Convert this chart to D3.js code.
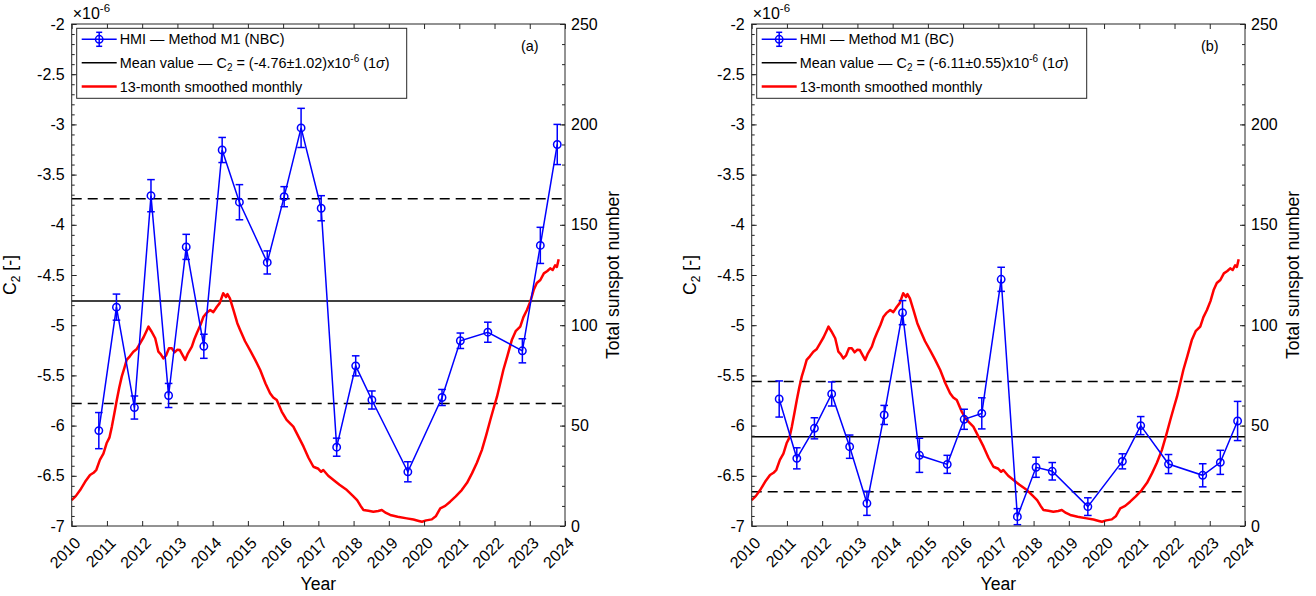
<!DOCTYPE html>
<html>
<head>
<meta charset="utf-8">
<script src="https://cdn.jsdelivr.net/npm/d3@7"></script>
<style>
  body { margin: 0; background: #fff; }
  svg { font-family: "Liberation Sans", Arial, sans-serif; }
</style>
</head>
<body>
<svg id="svg" width="1316" height="596"></svg>
<script>
const xTicks = [2010, 2011, 2012, 2013, 2014, 2015, 2016, 2017, 2018, 2019, 2020, 2021, 2022, 2023, 2024];
const leftTicks = [-7, -6.5, -6, -5.5, -5, -4.5, -4, -3.5, -3, -2.5, -2];
const rightTicks = [0, 50, 100, 150, 200, 250];

// HMI - Method M1 (NBC), panel (a)
const nbcDates = [2010.77, 2011.27, 2011.78, 2012.25, 2012.75, 2013.25, 2013.75, 2014.27, 2014.76, 2015.55, 2016.03, 2016.51, 2017.08, 2017.52, 2018.06, 2018.52, 2019.54, 2020.51, 2021.03, 2021.81, 2022.79, 2023.30, 2023.78];
const nbcC2 = [-6.05, -4.82, -5.82, -3.71, -5.70, -4.22, -5.21, -3.255, -3.775, -4.375, -3.72, -3.035, -3.835, -6.215, -5.405, -5.745, -6.46, -5.72, -5.155, -5.07, -5.255, -4.205, -3.20];
const nbcErr = [0.18, 0.13, 0.115, 0.16, 0.12, 0.125, 0.12, 0.125, 0.175, 0.115, 0.10, 0.195, 0.125, 0.09, 0.10, 0.09, 0.10, 0.08, 0.077, 0.10, 0.12, 0.18, 0.20];

// HMI - Method M1 (BC), panel (b)
const bcDates = [2010.78, 2011.28, 2011.78, 2012.27, 2012.78, 2013.27, 2013.76, 2014.28, 2014.76, 2015.55, 2016.03, 2016.53, 2017.08, 2017.54, 2018.07, 2018.53, 2019.54, 2020.52, 2021.04, 2021.83, 2022.80, 2023.30, 2023.79];
const bcC2 = [-5.735, -6.326, -6.027, -5.685, -6.21, -6.774, -5.894, -4.875, -6.296, -6.386, -5.937, -5.878, -4.543, -6.907, -6.415, -6.455, -6.807, -6.356, -6.0, -6.383, -6.495, -6.366, -5.954];
const bcErr = [0.18, 0.105, 0.105, 0.12, 0.116, 0.12, 0.095, 0.12, 0.17, 0.09, 0.10, 0.155, 0.12, 0.08, 0.10, 0.087, 0.088, 0.075, 0.09, 0.095, 0.115, 0.12, 0.195];

// 13-month smoothed monthly total sunspot number
const ssnDates = [2010.00, 2010.12, 2010.24, 2010.38, 2010.52, 2010.62, 2010.70, 2010.80, 2010.90, 2010.99, 2011.07, 2011.14, 2011.21, 2011.28, 2011.35, 2011.42, 2011.50, 2011.56, 2011.65, 2011.75, 2011.84, 2011.94, 2012.04, 2012.12, 2012.18, 2012.26, 2012.37, 2012.46, 2012.53, 2012.60, 2012.68, 2012.76, 2012.84, 2012.92, 2013.00, 2013.07, 2013.15, 2013.22, 2013.30, 2013.41, 2013.48, 2013.55, 2013.65, 2013.74, 2013.82, 2013.93, 2014.02, 2014.12, 2014.20, 2014.30, 2014.38, 2014.42, 2014.49, 2014.60, 2014.70, 2014.78, 2014.92, 2015.06, 2015.20, 2015.35, 2015.50, 2015.63, 2015.72, 2015.82, 2015.96, 2016.10, 2016.29, 2016.45, 2016.58, 2016.72, 2016.86, 2017.00, 2017.08, 2017.14, 2017.28, 2017.43, 2017.60, 2017.81, 2017.98, 2018.10, 2018.20, 2018.28, 2018.42, 2018.56, 2018.70, 2018.80, 2018.92, 2019.04, 2019.25, 2019.51, 2019.70, 2019.85, 2019.94, 2020.06, 2020.22, 2020.34, 2020.46, 2020.60, 2020.74, 2020.90, 2021.07, 2021.22, 2021.36, 2021.50, 2021.64, 2021.76, 2021.88, 2021.98, 2022.07, 2022.16, 2022.25, 2022.37, 2022.49, 2022.60, 2022.73, 2022.82, 2022.92, 2023.02, 2023.11, 2023.20, 2023.30, 2023.40, 2023.50, 2023.58, 2023.65, 2023.72, 2023.77, 2023.82];
const ssnValues = [12.9, 15, 17.9, 22, 25.4, 26.5, 28, 32.9, 36, 41.2, 44, 49.5, 56, 62.7, 69, 74.4, 79, 82.7, 84.5, 86.8, 88, 91, 94, 97, 99.3, 97, 93.5, 86.8, 85.5, 83.5, 85, 88.5, 88.5, 86.5, 87.8, 87.6, 85, 82.7, 86, 89.3, 93, 96, 100, 104.2, 106, 107.6, 106.5, 109.2, 111, 115.9, 114, 115.5, 113.4, 107, 101, 97.6, 92, 87.6, 83, 77.7, 71, 66.1, 64, 62.7, 57, 52.8, 49.5, 44, 39.5, 34, 29.5, 28.5, 27, 27.9, 25, 22.9, 20.5, 17.9, 15, 12.9, 10, 8, 7.6, 7.1, 7.5, 8, 6.5, 5.5, 4.6, 3.8, 3.2, 2.5, 2.1, 2.8, 3.3, 5, 8.8, 10, 12.1, 14.8, 17.9, 21.5, 26.2, 31.5, 37.8, 45, 52.8, 59, 64.4, 71, 77.7, 85, 92.6, 97, 99.3, 104, 107.6, 112, 117.5, 121, 122.5, 125.8, 127, 128.3, 127.5, 129.8, 129, 132.8];

const panels = [
  { left: 71.7, tag: "(a)", name: "HMI — Method M1 (NBC)", mean: -4.76, sd: 1.02, dates: nbcDates, c2: nbcC2, err: nbcErr },
  { left: 751.7, tag: "(b)", name: "HMI — Method M1 (BC)", mean: -6.11, sd: 0.55, dates: bcDates, c2: bcC2, err: bcErr },
];

const plotTop = 24;
const plotBottom = 526;
const plotW = 493.3;
const axisColor = "#262626";
const blue = "#0000ff";
const red = "#ff0000";

const svg = d3.select("#svg");
const ssn = ssnDates.map((d, i) => [d, ssnValues[i]]);

panels.forEach((p) => {
  const g = svg.append("g");
  const x = d3.scaleLinear().domain([2010, 2024]).range([p.left, p.left + plotW]);
  const yL = d3.scaleLinear().domain([-7, -2]).range([plotBottom, plotTop]);
  const yR = d3.scaleLinear().domain([0, 250]).range([plotBottom, plotTop]);
  const right = p.left + plotW;

  // mean and 1 sigma lines
  [p.mean - p.sd, p.mean + p.sd].forEach((v) => {
    g.append("line")
      .attr("x1", p.left).attr("x2", right)
      .attr("y1", yL(v)).attr("y2", yL(v))
      .attr("stroke", "#000").attr("stroke-width", 1.5)
      .attr("stroke-dasharray", "10,6");
  });
  g.append("line")
    .attr("x1", p.left).attr("x2", right)
    .attr("y1", yL(p.mean)).attr("y2", yL(p.mean))
    .attr("stroke", "#000").attr("stroke-width", 1.5);

  // sunspot curve
  g.append("path")
    .datum(ssn)
    .attr("d", d3.line().x((d) => x(d[0])).y((d) => yR(d[1])))
    .attr("fill", "none")
    .attr("stroke", red)
    .attr("stroke-width", 2.5)
    .attr("stroke-linejoin", "round");

  const pts = p.dates.map((d, i) => ({ t: d, v: p.c2[i], e: p.err[i] }));

  g.append("path")
    .datum(pts)
    .attr("d", d3.line().x((d) => x(d.t)).y((d) => yL(d.v)))
    .attr("fill", "none")
    .attr("stroke", blue)
    .attr("stroke-width", 1.5);

  const eb = g.selectAll(".eb").data(pts).enter().append("g").attr("class", "eb")
    .attr("stroke", blue).attr("stroke-width", 1.5);
  eb.append("line")
    .attr("x1", (d) => x(d.t)).attr("x2", (d) => x(d.t))
    .attr("y1", (d) => yL(d.v - d.e)).attr("y2", (d) => yL(d.v + d.e));
  [-1, 1].forEach((s) => {
    eb.append("line")
      .attr("x1", (d) => x(d.t) - 3.8).attr("x2", (d) => x(d.t) + 3.8)
      .attr("y1", (d) => yL(d.v + s * d.e)).attr("y2", (d) => yL(d.v + s * d.e));
  });
  eb.append("circle")
    .attr("cx", (d) => x(d.t)).attr("cy", (d) => yL(d.v))
    .attr("r", 3.7).attr("fill", "none");

  // axes
  const styleAxis = (a) => {
    a.select(".domain").remove();
    a.selectAll("line").attr("stroke", axisColor);
    a.selectAll("text").attr("fill", "#000").style("font-size", "16px")
      .style("font-family", '"Liberation Sans", Arial, sans-serif');
  };
  g.append("g").attr("transform", `translate(${p.left},0)`)
    .call(d3.axisLeft(yL).tickValues(leftTicks).tickSize(-5).tickPadding(7).tickFormat((d) => String(d)))
    .call(styleAxis);
  g.append("g").attr("transform", `translate(${p.left},0)`)
    .call(d3.axisLeft(yL).tickValues(d3.range(-70, -19).map((d) => d / 10)).tickSize(-3).tickFormat(""))
    .call(styleAxis);
  g.append("g").attr("transform", `translate(${right},0)`)
    .call(d3.axisRight(yR).tickValues(rightTicks).tickSize(-5).tickPadding(6))
    .call(styleAxis);
  g.append("g").attr("transform", `translate(${right},0)`)
    .call(d3.axisRight(yR).tickValues(d3.range(0, 251, 10)).tickSize(-3).tickFormat(""))
    .call(styleAxis);
  g.append("g").attr("transform", `translate(0,${plotBottom})`)
    .call(d3.axisBottom(x).tickValues(xTicks).tickSize(-5).tickFormat(""))
    .call(styleAxis);
  g.append("g").attr("transform", `translate(0,${plotTop})`)
    .call(d3.axisTop(x).tickValues(xTicks).tickSize(-5).tickFormat(""))
    .call(styleAxis);

  g.append("rect")
    .attr("x", p.left).attr("y", plotTop)
    .attr("width", plotW).attr("height", plotBottom - plotTop)
    .attr("fill", "none").attr("stroke", axisColor).attr("stroke-width", 1);

  g.selectAll(".xlab").data(xTicks).enter().append("text")
    .attr("class", "xlab")
    .attr("transform", (d) => `translate(${x(d) + 6},${plotBottom + 14}) rotate(-45)`)
    .attr("text-anchor", "end")
    .attr("dy", "0.35em")
    .style("font-size", "16px")
    .text((d) => d);

  g.append("text")
    .attr("x", (p.left + right) / 2).attr("y", 590)
    .attr("text-anchor", "middle")
    .style("font-size", "17.6px")
    .text("Year");

  const c2lab = g.append("text")
    .attr("transform", `translate(${p.left - 56},${(plotTop + plotBottom) / 2}) rotate(-90)`)
    .attr("text-anchor", "middle")
    .style("font-size", "17.6px");
  c2lab.append("tspan").text("C");
  c2lab.append("tspan").attr("dy", 4).style("font-size", "12px").text("2");
  c2lab.append("tspan").attr("dy", -4).text(" [-]");

  g.append("text")
    .attr("transform", `translate(${right + 48},${(plotTop + plotBottom) / 2}) rotate(-90)`)
    .attr("text-anchor", "middle")
    .attr("dy", "0.35em")
    .style("font-size", "17.6px")
    .text("Total sunspot number");

  const exp = g.append("text").attr("x", p.left + 1).attr("y", 19).style("font-size", "16px");
  exp.append("tspan").text("×10");
  exp.append("tspan").attr("dy", -7).style("font-size", "11.5px").text("-6");

  g.append("text")
    .attr("x", right - 44).attr("y", 46)
    .attr("dy", "0.35em")
    .style("font-size", "14.4px")
    .text(p.tag);

  // legend
  const lg = g.append("g").attr("transform", `translate(${p.left + 5},28.3)`);
  lg.append("rect").attr("width", 330).attr("height", 70)
    .attr("fill", "#fff").attr("stroke", axisColor).attr("stroke-width", 1);
  const rows = [11, 34.5, 58.3];
  lg.append("line").attr("x1", 5).attr("x2", 40).attr("y1", rows[0]).attr("y2", rows[0])
    .attr("stroke", blue).attr("stroke-width", 1.5);
  lg.append("line").attr("x1", 22.5).attr("x2", 22.5).attr("y1", rows[0] - 7).attr("y2", rows[0] + 7)
    .attr("stroke", blue).attr("stroke-width", 1.5);
  [-7, 7].forEach((o) => {
    lg.append("line").attr("x1", 19.5).attr("x2", 25.5).attr("y1", rows[0] + o).attr("y2", rows[0] + o)
      .attr("stroke", blue).attr("stroke-width", 1.5);
  });
  lg.append("circle").attr("cx", 22.5).attr("cy", rows[0]).attr("r", 3.7)
    .attr("fill", "none").attr("stroke", blue).attr("stroke-width", 1.5);
  lg.append("line").attr("x1", 5).attr("x2", 40).attr("y1", rows[1]).attr("y2", rows[1])
    .attr("stroke", "#000").attr("stroke-width", 1.5);
  lg.append("line").attr("x1", 5).attr("x2", 40).attr("y1", rows[2]).attr("y2", rows[2])
    .attr("stroke", red).attr("stroke-width", 2.5);

  const t1 = lg.append("text").attr("x", 43).attr("y", rows[0] + 5).style("font-size", "14.4px");
  t1.text(p.name);
  const t2 = lg.append("text").attr("x", 43).attr("y", rows[1] + 5).style("font-size", "14.4px");
  t2.append("tspan").text("Mean value — C");
  t2.append("tspan").attr("dy", 3).style("font-size", "10px").text("2");
  t2.append("tspan").attr("dy", -3).text(` = (${p.mean.toFixed(2)}±${p.sd.toFixed(2)})x10`);
  t2.append("tspan").attr("dy", -6).style("font-size", "10px").text("-6");
  t2.append("tspan").attr("dy", 6).text(" (1");
  t2.append("tspan").style("font-style", "italic").text("σ");
  t2.append("tspan").text(")");
  lg.append("text").attr("x", 43).attr("y", rows[2] + 5).style("font-size", "14.4px")
    .text("13-month smoothed monthly");
});
</script>
</body>
</html>
